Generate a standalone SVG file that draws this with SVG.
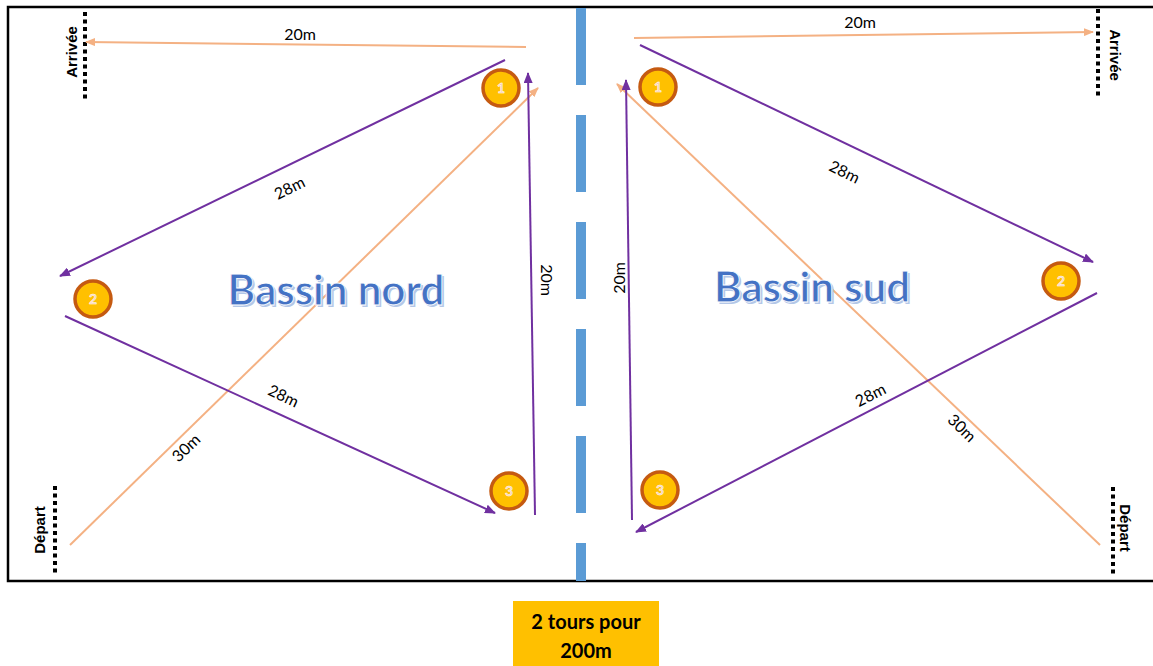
<svg xmlns="http://www.w3.org/2000/svg" width="1153" height="666" viewBox="0 0 1153 666">
<style>
.lbl{font-family:Lato,"Open Sans","Liberation Sans",sans-serif;font-size:16px;fill:#000;}
.side{font-family:"Liberation Sans",Arial,sans-serif;font-size:15px;font-weight:bold;fill:#000;}
.or{stroke:#F4B183;stroke-width:2;fill:none;}
.pu{stroke:#7030A0;stroke-width:2;fill:none;}
.dots{stroke:#000;stroke-width:4;stroke-dasharray:4 3.5;fill:none;}
.buoy circle{fill:#FFC000;stroke:#C55A11;stroke-width:3.5;}
.buoy text{font-family:Lato,"Liberation Sans",sans-serif;font-size:14px;font-weight:bold;fill:#F8CBAD;stroke:#fff;stroke-width:0.5;text-anchor:middle;}
.title{font-family:Lato,"Open Sans","Liberation Sans",sans-serif;font-size:42px;font-weight:bold;text-anchor:middle;}
</style>
<defs>
<marker id="ao" markerWidth="10" markerHeight="8" refX="9" refY="4" orient="auto" markerUnits="userSpaceOnUse"><path d="M0,0 L10,4 L0,8 Z" fill="#F4B183"/></marker>
<marker id="ap" markerWidth="11" markerHeight="9" refX="10" refY="4.5" orient="auto" markerUnits="userSpaceOnUse"><path d="M0,0 L11,4.5 L0,9 Z" fill="#7030A0"/></marker>
</defs>
<rect width="1153" height="666" fill="#fff"/>
<rect id="border" x="8" y="7" width="1152" height="574" fill="none" stroke="#000" stroke-width="2.5"/>
<g id="divider"><line x1="581" y1="8" x2="581" y2="581" stroke="#5B9BD5" stroke-width="10" stroke-dasharray="77 30"/></g>

<g id="marks">
<line class="dots" x1="85" y1="12" x2="85" y2="100"/>
<text class="side" transform="translate(77,52) rotate(-90)" text-anchor="middle">Arrivée</text>
<line class="dots" x1="1098" y1="9" x2="1098" y2="96"/>
<text class="side" transform="translate(1110,55) rotate(90)" text-anchor="middle">Arrivée</text>
<line class="dots" x1="55" y1="486" x2="55" y2="576"/>
<text class="side" transform="translate(45,530) rotate(-90)" text-anchor="middle">Départ</text>
<line class="dots" x1="1113" y1="487" x2="1113" y2="576"/>
<text class="side" transform="translate(1120,528) rotate(90)" text-anchor="middle">Départ</text>
</g>

<g id="connectors">
<line class="or" x1="526" y1="47" x2="86" y2="42" marker-end="url(#ao)"/>
<line class="or" x1="634" y1="38" x2="1093" y2="32" marker-end="url(#ao)"/>
<line class="or" x1="70" y1="545" x2="538" y2="88" marker-end="url(#ao)"/>
<line class="or" x1="1100" y1="545" x2="617" y2="84" marker-end="url(#ao)"/>
<line class="pu" x1="505" y1="60" x2="60" y2="276" marker-end="url(#ap)"/>
<line class="pu" x1="65" y1="316" x2="495" y2="513" marker-end="url(#ap)"/>
<line class="pu" x1="535" y1="515" x2="528" y2="73" marker-end="url(#ap)"/>
<line class="pu" x1="632" y1="520" x2="626" y2="80" marker-end="url(#ap)"/>
<line class="pu" x1="640" y1="45" x2="1093" y2="262" marker-end="url(#ap)"/>
<line class="pu" x1="1097" y1="293" x2="636" y2="532" marker-end="url(#ap)"/>
</g>

<g id="labels">
<text class="lbl" x="300" y="40" text-anchor="middle">20m</text>
<text class="lbl" x="860" y="28" text-anchor="middle">20m</text>
<text class="lbl" transform="translate(292,193) rotate(-26)" text-anchor="middle">28m</text>
<text class="lbl" transform="translate(281,401) rotate(25)" text-anchor="middle">28m</text>
<text class="lbl" transform="translate(190,452) rotate(-44)" text-anchor="middle">30m</text>
<text class="lbl" transform="translate(541,280) rotate(90)" text-anchor="middle">20m</text>
<text class="lbl" transform="translate(625,278) rotate(-90)" text-anchor="middle">20m</text>
<text class="lbl" transform="translate(842,177) rotate(26)" text-anchor="middle">28m</text>
<text class="lbl" transform="translate(873,400) rotate(-27)" text-anchor="middle">28m</text>
<text class="lbl" transform="translate(958,432) rotate(44)" text-anchor="middle">30m</text>
</g>

<g id="bassin-nord">
<text class="title" x="338" y="307" fill="#B4C7E7">Bassin nord</text>
<text class="title" x="336" y="305" fill="#4472C4" stroke="#fff" stroke-width="0.8">Bassin nord</text>
</g>
<g id="bassin-sud">
<text class="title" x="814" y="304" fill="#B4C7E7">Bassin sud</text>
<text class="title" x="812" y="302" fill="#4472C4" stroke="#fff" stroke-width="0.8">Bassin sud</text>
</g>

<g id="buoy-1-nord" class="buoy"><circle cx="501" cy="88" r="18"/><text x="501" y="93">1</text></g>
<g id="buoy-1-sud" class="buoy"><circle cx="658" cy="87" r="18"/><text x="658" y="92">1</text></g>
<g id="buoy-2-nord" class="buoy"><circle cx="93" cy="299" r="18"/><text x="93" y="304">2</text></g>
<g id="buoy-2-sud" class="buoy"><circle cx="1061" cy="281" r="18"/><text x="1061" y="286">2</text></g>
<g id="buoy-3-nord" class="buoy"><circle cx="509" cy="491" r="18"/><text x="509" y="496">3</text></g>
<g id="buoy-3-sud" class="buoy"><circle cx="660" cy="490" r="18"/><text x="660" y="495">3</text></g>

<g id="note">
<rect x="513" y="601" width="146" height="65" fill="#FFC000"/>
<text x="586" y="629" text-anchor="middle" font-family="Lato,'Open Sans','Liberation Sans',sans-serif" font-size="20" font-weight="bold">2 tours pour</text>
<text x="586" y="658" text-anchor="middle" font-family="Lato,'Open Sans','Liberation Sans',sans-serif" font-size="20" font-weight="bold">200m</text>
</g>
</svg>
